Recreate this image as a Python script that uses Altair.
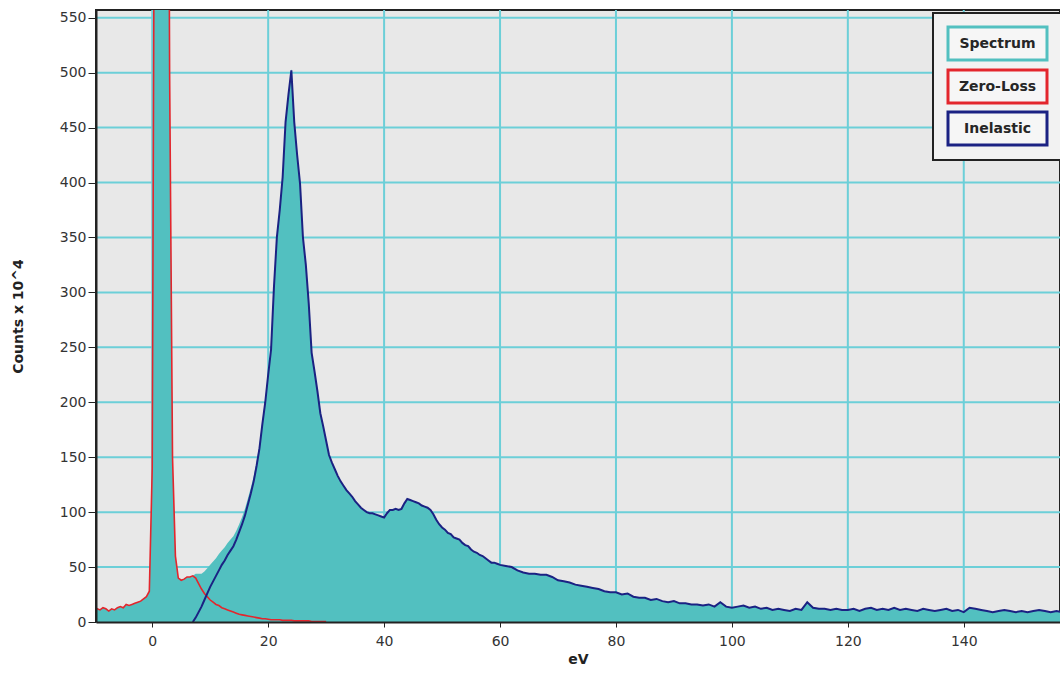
import altair as alt
import numpy as np
import pandas as pd

# ---------------- data ----------------
series_names = ["Spectrum", "Zero-Loss", "Inelastic"]
series_colors = ["#52c0c0", "#e3262d", "#1b2283"]

x_ticks = [0, 20, 40, 60, 80, 100, 120, 140]
y_ticks = [0, 50, 100, 150, 200, 250, 300, 350, 400, 450, 500, 550]

# zero-loss: -10 .. 30 eV, 0.5 eV bins
zero_loss_start, zero_loss_step = -10.0, 0.5
zero_loss = [
    13, 12, 11, 13, 12, 10, 12, 11, 13, 14, 13, 16, 15, 16, 17, 18, 19, 21, 23, 28,
    140, 900, 3000, 3200, 2500, 1200, 500, 150, 60, 40,
    38, 39, 41, 41, 42, 40, 35, 30, 26, 23,
    20, 18, 16, 15, 13, 12, 11, 10, 9, 8,
    7, 6.5, 6, 5.5, 5, 4.5, 4, 3.5, 3, 3,
    2.5, 2, 2, 2, 2, 1.5, 1.5, 1.5, 1.5, 1, 1, 1, 1, 1, 1, 0.5, 0.5, 0.5, 0.5, 0.5, 0.5,
]

# inelastic: 7 .. 60 eV in 0.5 eV bins
inel_a_start, inel_a_step = 7.0, 0.5
inelastic_a = [
    0, 4, 9, 14, 20, 26,
    32, 37, 42, 47, 52, 56, 61, 65, 69, 75,
    82, 89, 97, 107, 117, 128, 142, 158, 180, 200,
    225, 248, 305, 350, 375, 405, 455, 480, 502, 455,
    425, 399, 350, 325, 290, 245, 228, 210, 190, 178,
    165, 152, 145, 139, 133, 128, 124, 120, 117, 114,
    110, 107, 104, 102, 100, 99, 99, 98, 97, 96,
    95, 99, 102, 102, 103, 102, 103, 108, 112, 111,
    110, 109, 108, 106, 105, 104, 102, 98, 93, 89,
    86, 84, 81, 80, 77, 76, 75, 72, 70, 69,
    66, 64, 63, 61, 60, 58, 56, 54, 54, 53,
    52,
]
# inelastic: 61 .. 157 eV in 1 eV bins
inel_b_start, inel_b_step = 61.0, 1.0
inelastic_b = [
    51, 50, 47, 45, 44, 44, 43, 43, 41, 38,
    37, 36, 34, 33, 32, 31, 30, 28, 27, 27,
    25, 26, 23, 22, 22, 20, 21, 19, 18, 19,
    17, 17, 16, 16, 15, 16, 14, 18, 14, 13,
    14, 15, 13, 14, 12, 13, 11, 12, 11, 10,
    12, 11, 18, 13, 12, 12, 11, 12, 11, 11,
    12, 10, 12, 13, 11, 12, 11, 13, 11, 12,
    11, 10, 12, 11, 10, 11, 12, 10, 11, 9,
    13, 12, 11, 10, 9, 10, 11, 10, 9, 10,
    9, 10, 11, 10, 9, 10, 9,
]

# ---------------- tables ----------------
zl_df = pd.DataFrame({
    "ev": zero_loss_start + zero_loss_step * np.arange(len(zero_loss)),
    "val": zero_loss,
})
in_df = pd.DataFrame({
    "ev": np.concatenate([
        inel_a_start + inel_a_step * np.arange(len(inelastic_a)),
        inel_b_start + inel_b_step * np.arange(len(inelastic_b)),
    ]),
    "val": inelastic_a + inelastic_b,
})
sp = pd.merge(zl_df.rename(columns={"val": "zl"}), in_df.rename(columns={"val": "inel"}),
              on="ev", how="outer").sort_values("ev").fillna(0)
sp_df = pd.DataFrame({"ev": sp["ev"], "val": sp["zl"] + sp["inel"]})

W, H = 964, 612
FONT = "DejaVu Sans"

xscale = alt.Scale(domain=[-9.7, 156.6], nice=False, zero=False)
yscale = alt.Scale(domain=[0, 557], nice=False)

x_axis = alt.Axis(values=x_ticks, grid=False, title="eV", labelFont=FONT, labelFontSize=14,
                  labelColor="#333333", titleFont=FONT, titleFontSize=14, titleFontWeight="bold",
                  titleColor="#222222", tickSize=5, tickColor="#222222", domainColor="#222222",
                  domainWidth=2, labelPadding=7, titlePadding=4, zindex=1)
y_axis = alt.Axis(values=y_ticks, grid=False, title="Counts x 10^4", labelFont=FONT,
                  labelFontSize=14, labelColor="#333333", titleFont=FONT, titleFontSize=14,
                  titleFontWeight="bold", titleColor="#222222", tickSize=8, tickColor="#222222",
                  domainColor="#222222", domainWidth=2, labelPadding=2, titlePadding=34, zindex=1)

X = alt.X("ev:Q", scale=xscale, axis=x_axis)
Y = alt.Y("val:Q", scale=yscale, axis=y_axis)

grid_color = "#6ccfd8"
vgrid = alt.Chart(pd.DataFrame({"ev": x_ticks})).mark_rule(color=grid_color, strokeWidth=2).encode(
    x=X)
hgrid = alt.Chart(pd.DataFrame({"val": y_ticks})).mark_rule(color=grid_color, strokeWidth=2).encode(
    y=Y)

area = alt.Chart(sp_df).mark_area(color=series_colors[0], opacity=1, clip=True).encode(x=X, y=Y)
red = alt.Chart(zl_df).mark_line(color=series_colors[1], strokeWidth=1.6, clip=True).encode(x=X, y=Y)
blue = alt.Chart(in_df).mark_line(color=series_colors[2], strokeWidth=2, clip=True).encode(x=X, y=Y)

# ---------------- legend box ----------------
one = pd.DataFrame({"a": [0]})
legend_layers = [
    alt.Chart(one).mark_rect(fill="#f2f2f2", stroke="#222222", strokeWidth=2).encode(
        x=alt.value(837), x2=alt.value(990), y=alt.value(3), y2=alt.value(150))
]
box_tops = [17, 60, 102]
for name, col, top in zip(series_names, series_colors, box_tops):
    legend_layers.append(
        alt.Chart(one).mark_rect(fill="#f6f6f6", stroke=col, strokeWidth=3).encode(
            x=alt.value(852), x2=alt.value(951), y=alt.value(top), y2=alt.value(top + 33)))
    legend_layers.append(
        alt.Chart(pd.DataFrame({"label": [name]})).mark_text(
            font=FONT, fontSize=14, fontWeight="bold", color="#262626",
            align="center", baseline="middle").encode(
            x=alt.value(901.5), y=alt.value(top + 17), text="label:N"))

chart = alt.layer(vgrid, hgrid, area, red, blue, *legend_layers).properties(
    width=W, height=H,
    autosize=alt.AutoSizeParams(type="none"),
    padding={"left": 96, "top": 10, "right": 0, "bottom": 55},
    background="white",
).configure_view(fill="#e8e8e8", stroke="#222222", strokeWidth=2)

chart.save("out.html", embed_options={"renderer": "svg", "actions": False})
